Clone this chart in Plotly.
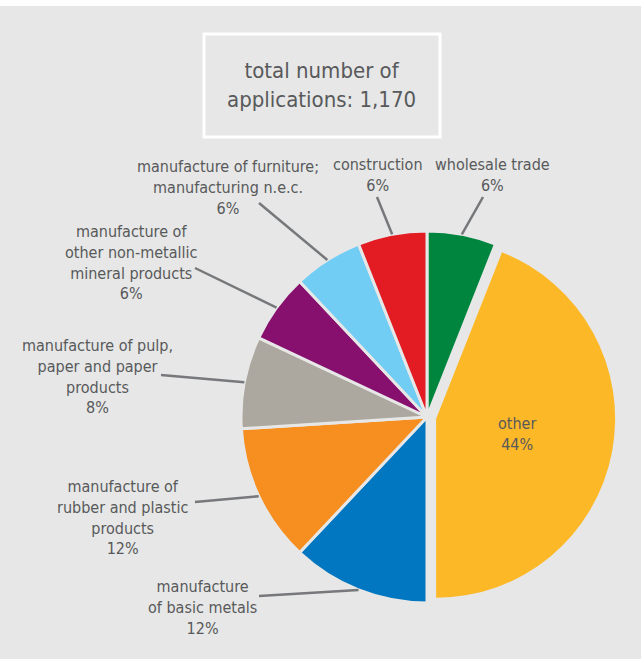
import math
import plotly.graph_objects as go

# ---- data ----
categories = [
    "wholesale trade",
    "other",
    "manufacture of basic metals",
    "manufacture of rubber and plastic products",
    "manufacture of pulp, paper and paper products",
    "manufacture of other non-metallic mineral products",
    "manufacture of furniture; manufacturing n.e.c.",
    "construction",
]
shares = [6, 44, 12, 12, 8, 6, 6, 6]
label_lines = [
    "wholesale trade",
    "other",
    "manufacture<br>of basic metals",
    "manufacture of<br>rubber and plastic<br>products",
    "manufacture of pulp,<br>paper and paper<br>products",
    "manufacture of<br>other non-metallic<br>mineral products",
    "manufacture of furniture;<br>manufacturing n.e.c.",
    "construction",
]
total_applications = "1,170"

# ---- styles / layout ----
colors = ["#00853f", "#fdb827", "#0077c0", "#f68f1f", "#aca89f", "#870f6e", "#72cdf4", "#e31b23"]
BG = "#e6e7e6"
TXT = "#58595b"
FONT = "DejaVu Sans Condensed, Liberation Sans Narrow, sans-serif"
W, H = 641, 659
CX, CY, R = 427, 417, 186       # pie centre / radius in pixels
R_OTHER = 179                   # the highlighted slice is drawn a bit smaller
PULL = 0.05
INNER_LABEL_K = 0.44

# label placement (pixel): text centre and leader start
label_pos = {
    0: ((492, 175), (483, 197)),
    2: ((202, 607), (259, 596)),
    3: ((122, 517), (195, 502)),
    4: ((97, 376), (161, 375)),
    5: ((131, 262), (195, 268)),
    6: ((228, 187), (259, 203)),
    7: ((378, 175), (377, 197)),
}

def px(x):
    return x / W

def py(y):
    return 1 - y / H

is_other = [c == "other" for c in categories]
TRANSP = "rgba(0,0,0,0)"

# base pie: all slices except "other"
fig = go.Figure(go.Pie(
    labels=categories,
    values=shares,
    sort=False,
    direction="clockwise",
    rotation=0,
    marker=dict(colors=[TRANSP if o else c for o, c in zip(is_other, colors)],
                line=dict(color=[TRANSP if o else BG for o in is_other], width=3)),
    textinfo="none",
    hoverinfo="label+percent",
    showlegend=False,
    domain=dict(x=[px(CX - R), px(CX + R)], y=[py(CY + R), py(CY - R)]),
))

# highlighted "other" slice, pulled out
pull_other = PULL * R / R_OTHER
half2 = R_OTHER * (1 + pull_other)
fig.add_trace(go.Pie(
    labels=categories,
    values=shares,
    sort=False,
    direction="clockwise",
    rotation=0,
    pull=[pull_other if o else 0 for o in is_other],
    marker=dict(colors=[c if o else TRANSP for o, c in zip(is_other, colors)],
                line=dict(color=TRANSP, width=0)),
    textinfo="none",
    hoverinfo="label+percent",
    showlegend=False,
    domain=dict(x=[px(CX - half2), px(CX + half2)], y=[py(CY + half2), py(CY - half2)]),
))

shapes = [
    # white strip at top
    dict(type="rect", xref="paper", yref="paper", x0=0, x1=1, y0=py(6), y1=1.01,
         fillcolor="white", line=dict(width=0), layer="below"),
    # title box
    dict(type="rect", xref="paper", yref="paper", x0=px(204), x1=px(440), y0=py(137), y1=py(34),
         line=dict(color="white", width=3), fillcolor="rgba(0,0,0,0)"),
]
annotations = [
    dict(x=px(322), y=py(85), xref="paper", yref="paper", showarrow=False,
         text=f"total number of<br>applications: {total_applications}",
         font=dict(family=FONT, size=22, color=TXT), align="center",
         xanchor="center", yanchor="middle"),
]

total = sum(shares)
cum = 0
for i, v in enumerate(shares):
    mid = (cum + v / 2) / total * 2 * math.pi
    cum += v
    if is_other[i]:
        d = PULL * R + INNER_LABEL_K * R
        annotations.append(dict(x=px(CX + d * math.sin(mid)), y=py(CY - d * math.cos(mid)),
                                xref="paper", yref="paper", showarrow=False,
                                text=f"{label_lines[i]}<br>{v}%",
                                font=dict(family=FONT, size=16, color=TXT), align="center",
                                xanchor="center", yanchor="middle"))
        continue
    (tx, ty), (sx, sy) = label_pos[i]
    ex = CX + R * math.sin(mid)
    ey = CY - R * math.cos(mid)
    shapes.append(dict(type="line", xref="paper", yref="paper",
                       x0=px(sx), y0=py(sy), x1=px(ex), y1=py(ey),
                       line=dict(color="#77787b", width=2.5)))
    annotations.append(dict(x=px(tx), y=py(ty), xref="paper", yref="paper", showarrow=False,
                            text=f"{label_lines[i]}<br>{v}%",
                            font=dict(family=FONT, size=16, color=TXT), align="center",
                            xanchor="center", yanchor="middle"))

fig.update_layout(
    width=W, height=H,
    margin=dict(l=0, r=0, t=0, b=0),
    paper_bgcolor=BG,
    plot_bgcolor=BG,
    shapes=shapes,
    annotations=annotations,
)

fig.write_html(
    "out.html",
    config={"displayModeBar": False},
    post_script="document.body.style.margin='0';document.body.style.padding='0';"
                "document.body.style.background='%s';document.documentElement.style.background='%s';" % (BG, BG),
)
